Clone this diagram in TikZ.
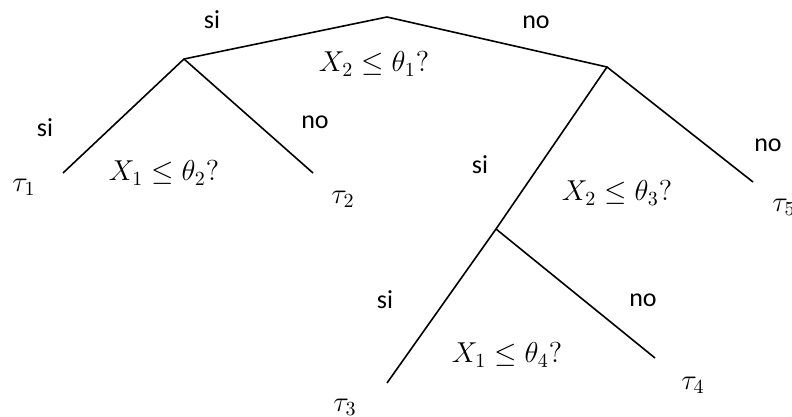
\documentclass[tikz,border=0pt]{standalone}
\usepackage{amsmath}
\usepackage{amssymb}
\usepackage{fontspec}
\newfontfamily\answerfont{Carlito}
\usepackage{tikz}
\usetikzlibrary{
    positioning
}

\begin{document}
\begin{tikzpicture}[
    x=0.5pt,
    y=-0.5pt,
%
    branch/.style={
        line width=0.8pt,
        color=black
    },
%
    answer/.style={
        font=\answerfont\fontsize{13}{15}\selectfont,
        inner sep=0pt
    },
%
    test/.style={
        font=\Large,
        inner sep=0pt
    },
%
    leaf/.style={
        font=\Large,
        inner sep=0pt
    }
]
\useasboundingbox (0,0) rectangle (792,417);
%
% Split points of the tree and the free ends of the branches.
%
\coordinate (root) at (387,17);
\coordinate (nA) at (184,59);
\coordinate (nB) at (607,67);
\coordinate (nC) at (496,229);
\coordinate (endone) at (63,173);
\coordinate (endtwo) at (313,173);
\coordinate (endthree) at (387,383);
\coordinate (endfour) at (655,358);
\coordinate (endfive) at (753,182);
%
% Branches.
%
\draw[branch] (nA) -- (root) -- (nB);
\draw[branch] (endone) -- (nA) -- (endtwo);
\draw[branch] (endfive) -- (nB) -- (nC) -- (endthree);
\draw[branch] (nC) -- (endfour);
%
% Tests at the split points.
%
\node[test] (qone) at (374,64) {$X_2 \leq \theta_1?$};
\node[test] (qtwo) at (164,173) {$X_1 \leq \theta_2?$};
\node[test] (qthree) at (617,193) {$X_2 \leq \theta_3?$};
\node[test] (qfour) at (507,355) {$X_1 \leq \theta_4?$};
%
% Answers on the branches.
%
\node[answer] (sione) at (212,20) {si};
\node[answer] (noone) at (536,22) {no};
\node[answer] (sitwo) at (45,128) {si};
\node[answer] (notwo) at (315,122) {no};
\node[answer] (sithree) at (480,165) {si};
\node[answer] (nothree) at (768,145) {no};
\node[answer] (sifour) at (385,300) {si};
\node[answer] (nofour) at (643,300) {no};
%
% Leaves.
%
\node[leaf] (tauone) at (24,187) {$\tau_1$};
\node[leaf] (tautwo) at (343,199) {$\tau_2$};
\node[leaf] (tauthree) at (345,407) {$\tau_3$};
\node[leaf] (taufour) at (693,385) {$\tau_4$};
\node[leaf, anchor=west] (taufive) at (772,207) {$\tau_5$};
%
\end{tikzpicture}
\end{document}
